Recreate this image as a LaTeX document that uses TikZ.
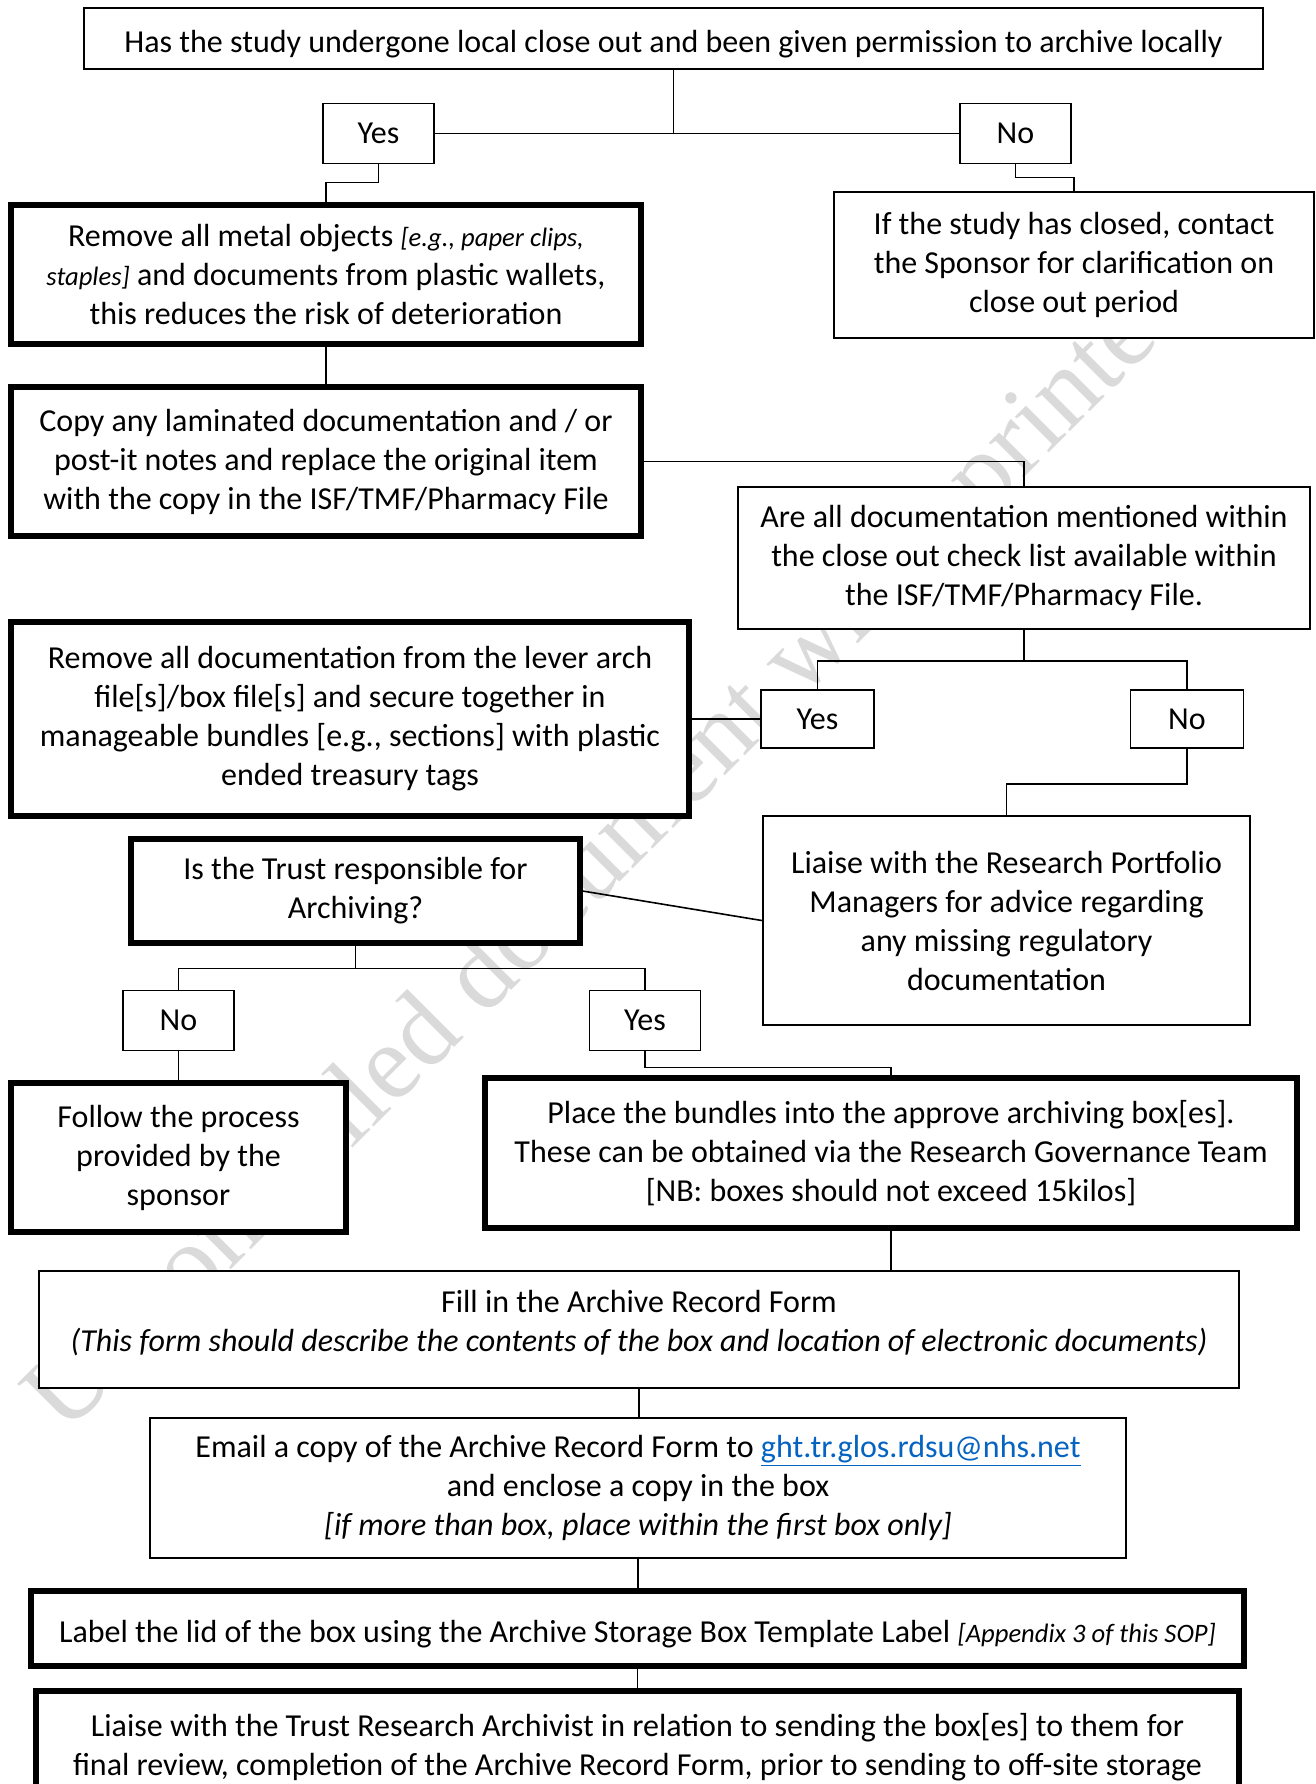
\documentclass[tikz,border=0pt]{standalone}
\usepackage{fontspec}
\setmainfont{Carlito}
\newfontfamily\wmfont{Liberation Serif}
\usepackage{tikz}
\usetikzlibrary{positioning}
\definecolor{linkblue}{HTML}{0563C1}
\definecolor{wmgray}{HTML}{DADADA}
\tikzset{
  boxsize/.style 2 args={minimum width=#1*0.5pt, minimum height=#2*0.5pt},
  basebox/.style={draw, fill=white, align=center, inner sep=0pt,
    font=\fontsize{16}{19.5}\selectfont},
  thinbox/.style={basebox, line width=0.8pt},
  midbox/.style={basebox, line width=1.2pt},
  thickbox/.style={basebox, line width=2.6pt},
  answer/.style={thinbox, boxsize={111}{60}},
  link/.style={line width=0.8pt}
}
\newcommand{\note}[1]{{\fontsize{13.3}{19.5}\selectfont\itshape #1}}

\begin{document}
\begin{tikzpicture}[x=0.5pt,y=-0.5pt]
\useasboundingbox (0,0) rectangle (1316,1784);
\clip (0,0) rectangle (1316,1784);
\node[rotate=45, text=wmgray, font=\wmfont\fontsize{53.5}{53.5}\selectfont] (wm) at (614,851)
  {Uncontrolled document when printed};

\node[thinbox, boxsize={1179}{61}] (q1) at (673.5,38.5)
  {\rule{0pt}{16.5pt}Has the study undergone local close out and been given permission to archive locally};
\node[answer] (yes1) at (378.5,133.5) {Yes};
\node[answer] (no1) at (1015.5,133.5) {No};
\node[thickbox, boxsize={630}{139}] (metal) at (326,274.5)
  {Remove all metal objects \note{[e.g., paper clips,}\\
   \note{staples]} and documents from plastic wallets,\\
   this reduces the risk of deterioration};
\node[midbox, boxsize={480}{146}] (closed) at (1074,265)
  {If the study has closed, contact\\the Sponsor for clarification on\\close out period};
\node[thickbox, boxsize={630}{149}] (copy) at (326,461.5)
  {Copy any laminated documentation and / or\\post-it notes and replace the original item\\with the copy in the ISF/TMF/Pharmacy File};
\node[midbox, boxsize={572}{142}] (check) at (1024,558)
  {Are all documentation mentioned within\\the close out check list available within\\the ISF/TMF/Pharmacy File.};
\node[answer, boxsize={113}{58}] (yes2) at (817.5,719) {Yes};
\node[answer, boxsize={113}{58}] (no2) at (1187,719) {No};
\node[thickbox, boxsize={678}{194}] (bundle) at (350,719)
  {Remove all documentation from the lever arch\\file[s]/box file[s] and secure together in\\manageable bundles [e.g., sections] with plastic\\ended treasury tags};
\node[midbox, boxsize={487}{209}] (rpm) at (1006.5,920.5)
  {Liaise with the Research Portfolio\\Managers for advice regarding\\any missing regulatory\\documentation};
\node[thickbox, boxsize={449}{104}] (trust) at (355.5,891)
  {Is the Trust responsible for\\Archiving?};
\node[answer] (no3) at (178.5,1020.5) {No};
\node[answer] (yes3) at (645,1020.5) {Yes};
\node[thickbox, boxsize={335}{149}] (follow) at (178.5,1157.5)
  {Follow the process\\provided by the\\sponsor};
\node[thickbox, boxsize={812}{150}] (place) at (891,1153)
  {Place the bundles into the approve archiving box[es].\\These can be obtained via the Research Governance Team\\{}[NB: boxes should not exceed 15kilos]};
\node[midbox, boxsize={1200}{117}] (fill) at (639,1329.5)
  {Fill in the Archive Record Form\\\textit{(This form should describe the contents of the box and location of electronic documents)}\rule[-9pt]{0pt}{0pt}};
\node[midbox, boxsize={976}{140}] (email) at (638,1488)
  {Email a copy of the Archive Record Form to \textcolor{linkblue}{\underline{ght.tr.glos.rdsu@nhs.net}}\\and enclose a copy in the box\\\textit{[if more than box, place within the first box only]}};
\node[thickbox, boxsize={1213}{75}] (label) at (637.5,1628.5)
  {\rule{0pt}{16.5pt}Label the lid of the box using the Archive Storage Box Template Label \note{[Appendix 3 of this SOP]}};
\node[thickbox, boxsize={1203}{112}] (archivist) at (637.5,1747)
  {Liaise with the Trust Research Archivist in relation to sending the box[es] to them for\\final review, completion of the Archive Record Form, prior to sending to off-site storage};

\draw[link] (q1.south) -- (q1.south |- yes1.east);
\draw[link] (yes1.east) -- (no1.west);
\draw[link] (yes1.south) -- ++(0,18) -| (metal.north);
\draw[link] (no1.south) -- ++(0,13) -| (closed.north);
\draw[link] (copy.east) -| (check.north);
\draw[link] (check.south) -- ++(0,31) coordinate (split2);
\draw[link] (yes2.north) |- (split2) -| (no2.north);
\draw[link] (yes2.west) -- (bundle.east);
\draw[link] (no2.south) -- ++(0,35) -| (rpm.north);
\draw[link] (trust.east) -- (rpm.west);
\draw[link] (trust.south) -- ++(0,23) coordinate (split3);
\draw[link] (no3.north) |- (split3) -| (yes3.north);
\draw[link] (yes3.south) -- ++(0,16) -| (place.north);
\draw[link] (place.south) -- (place.south |- fill.north);
\foreach \a/\b in {metal/copy, no3/follow, fill/email, email/label, label/archivist}
  \draw[link] (\a.south) -- (\a.south |- \b.north);
\end{tikzpicture}
\end{document}
